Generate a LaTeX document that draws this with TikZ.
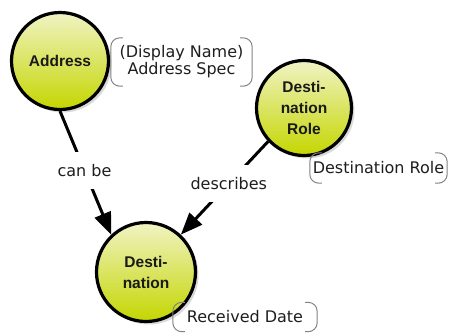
\documentclass[tikz,border=0pt]{standalone}
\usepackage{fontspec}
\setmainfont{DejaVu Sans}
\newfontfamily\hfont{Liberation Sans}
\usetikzlibrary{arrows.meta,shadows}
\definecolor{ballTop}{RGB}{240,243,196}
\definecolor{ballMid}{RGB}{218,228,105}
\definecolor{ballBot}{RGB}{196,214,0}
\definecolor{brkgray}{RGB}{130,130,130}
\definecolor{txtgray}{RGB}{30,30,30}
\newcommand\drawbrackets[1]{%
  \draw[brk] ([xshift=12pt]#1.north west) -- (#1.north west) -- (#1.south west) -- ([xshift=12pt]#1.south west);
  \draw[brk] ([xshift=-12pt]#1.north east) -- (#1.north east) -- (#1.south east) -- ([xshift=-12pt]#1.south east);}
\tikzset{
  concept/.style={circle, draw=black, line width=3.2pt, top color=ballTop, middle color=ballMid, bottom color=ballBot,
    font=\hfont\bfseries\fontsize{15.5}{21}\selectfont, align=center, inner sep=0pt, text=black!90,
    drop shadow={shadow xshift=3pt, shadow yshift=-3pt, opacity=0.3}},
  attr/.style={font=\fontsize{16}{17}\selectfont, text=txtgray, align=center, inner sep=0pt},
  brk/.style={draw=brkgray, line width=1pt, rounded corners=9pt},
  link/.style={line width=3pt, -{Triangle[length=22pt,width=17pt]}},
  lbl/.style={fill=white, font=\fontsize{16}{17}\selectfont, text=txtgray, inner xsep=2pt, inner ysep=12pt},
}
\begin{document}
\begin{tikzpicture}[x=1pt,y=-1pt]
  \useasboundingbox (0,0) rectangle (450,333);
  \node[concept, minimum size=97pt] (addr) at (60,61) {Address};
  \node[concept, minimum size=95pt] (role) at (304,108) {Desti-\\nation\\Role};
  \node[concept, minimum size=99pt] (dest) at (146,272) {Desti-\\nation};
  \node[attr, minimum width=141pt, minimum height=48pt] (spec) at (181.5,62) {(Display Name)\\Address Spec};
  \node[attr, minimum width=137pt, minimum height=30pt] (rolea) at (378.5,168) {Destination Role};
  \node[attr, minimum width=144pt, minimum height=29pt] (recv) at (245,317) {Received Date};
  \drawbrackets{spec}
  \drawbrackets{rolea}
  \drawbrackets{recv}
  \draw[link] (addr.-90) -- node[lbl, pos=0.48] {can be} (dest.133);
  \draw[link] (role.223) -- node[lbl, pos=0.45] {describes} (dest.47);
\end{tikzpicture}
\end{document}
